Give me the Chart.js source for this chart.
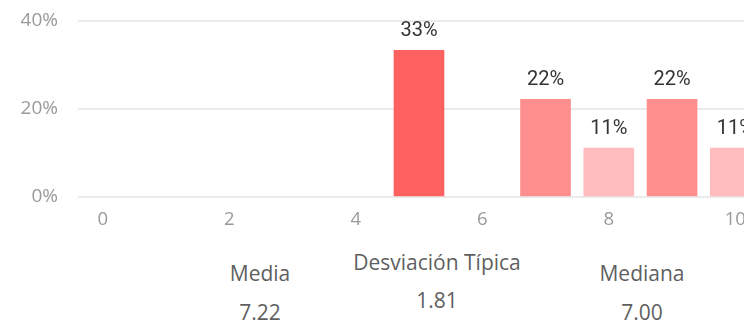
<!DOCTYPE html>
<html>
<head>
<meta charset="utf-8">
<script src="https://cdn.jsdelivr.net/npm/chart.js@4.4.1/dist/chart.umd.min.js"></script>
<style>
    html, body { margin: 0; padding: 0; background: #fff; overflow: hidden; }
    body { width: 744px; height: 321px; position: relative; font-family: "Open Sans", sans-serif; }
    #chartBox { position: absolute; left: 0; top: 0; width: 800px; height: 240px; }
    .stat { position: absolute; transform: translateX(-50%); white-space: nowrap; color: #5f5f5f; font-size: 21px; line-height: 1; }
</style>
</head>
<body>
<div id="chartBox"><canvas id="scoreChart" width="800" height="240"></canvas></div>
<div id="stats"></div>
<script>
// puntuaciones 0-10 y porcentaje de respuestas
const scores = [0, 1, 2, 3, 4, 5, 6, 7, 8, 9, 10];
const shares = [0, 0, 0, 0, 0, 33.33, 0, 22.22, 11.11, 22.22, 11.11];
const barColors = ['#ff6060', '#ff6060', '#ff6060', '#ff6060', '#ff6060', '#ff6060',
    '#ff6060', '#ff8e8e', '#ffbdbd', '#ff8e8e', '#ffbdbd'];
const yTicks = [0, 20, 40];

const statLabels = ['Media', 'Desviación Típica', 'Mediana'];
const statValues = ['7.22', '1.81', '7.00'];
const statX = [260, 437, 642];
const statLabelY = [263, 252, 263];
const statValueY = [302, 290, 302];

const points = [];
const colors = [];
scores.forEach((s, i) => {
    if (shares[i] > 0) {
        points.push({ x: s, y: shares[i] });
        colors.push(barColors[i]);
    }
});

// porcentaje encima de cada barra
const valueLabels = {
    id: 'valueLabels',
    afterDatasetsDraw(chart) {
        const ctx = chart.ctx;
        const ds = chart.data.datasets[0];
        ctx.save();
        ctx.font = '20px Roboto';
        ctx.fillStyle = '#333333';
        ctx.textAlign = 'center';
        ctx.textBaseline = 'alphabetic';
        chart.getDatasetMeta(0).data.forEach((bar, i) => {
            ctx.fillText(Math.round(ds.data[i].y) + '%', bar.x, bar.y - 14);
        });
        ctx.restore();
    }
};

new Chart(document.getElementById('scoreChart'), {
    type: 'bar',
    data: {
        datasets: [{
            data: points,
            backgroundColor: colors,
            borderWidth: 0,
            barThickness: 50
        }]
    },
    options: {
        responsive: false,
        animation: false,
        layout: { padding: { top: 21, bottom: 0, left: 0, right: 40 } },
        plugins: { legend: { display: false }, tooltip: { enabled: false } },
        scales: {
            x: {
                type: 'linear',
                offset: false,
                min: -0.39,
                max: 10.39,
                afterFit(scale) { scale.height = 43; },
                grid: { display: false, drawTicks: false, offset: false },
                border: { display: false },
                ticks: {
                    stepSize: 2,
                    includeBounds: false,
                    padding: 12,
                    color: '#9a9a9a',
                    font: { family: 'Open Sans', size: 18.5 }
                }
            },
            y: {
                min: yTicks[0],
                max: yTicks[yTicks.length - 1],
                afterFit(scale) { scale.width = 78; },
                afterBuildTicks(scale) { scale.ticks = yTicks.map(v => ({ value: v })); },
                grid: { color: '#ebebeb', lineWidth: 2, drawTicks: true, tickLength: 20, tickColor: 'rgba(0,0,0,0)' },
                border: { display: false },
                ticks: {
                    padding: 0,
                    color: '#9a9a9a',
                    font: { family: 'Open Sans', size: 19 },
                    callback: v => v + '%'
                }
            }
        }
    },
    plugins: [valueLabels]
});

const statsBox = document.getElementById('stats');
statLabels.forEach((label, i) => {
    const l = document.createElement('div');
    l.className = 'stat';
    l.style.left = statX[i] + 'px';
    l.style.top = statLabelY[i] + 'px';
    l.textContent = label;
    statsBox.appendChild(l);
    const v = document.createElement('div');
    v.className = 'stat';
    v.style.left = statX[i] + 'px';
    v.style.top = statValueY[i] + 'px';
    v.textContent = statValues[i];
    statsBox.appendChild(v);
});
</script>
</body>
</html>
